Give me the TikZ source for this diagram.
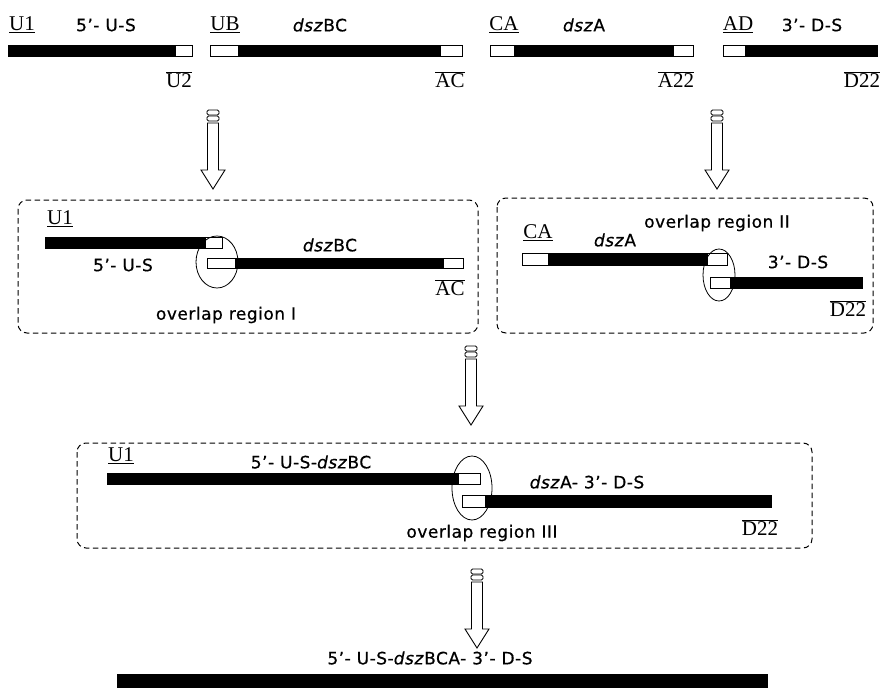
\documentclass[tikz,border=0pt]{standalone}
\usepackage{fontspec}
\setmainfont{Liberation Serif}
\newfontfamily\lblfont[FakeBold=0.6,LetterSpace=3]{DejaVu Sans}
\usetikzlibrary{shapes.geometric}
\tikzset{
  blk/.style={fill=black,draw=black,line width=0.6pt},
  wht/.style={fill=white,draw=black,line width=0.9pt},
  ser/.style={font=\fontsize{21}{24}\selectfont,inner sep=0pt},
  lbl/.style={font=\lblfont\fontsize{17}{20}\selectfont,inner sep=0pt},
  dbox/.style={draw,line width=1pt,dash pattern=on 5.5pt off 3.5pt,rounded corners=9pt},
  ovl/.style={draw,ellipse,line width=0.8pt,inner sep=0pt},
  harrow/.pic={
    \draw[line width=0.9pt,rounded corners=1.5pt,fill=white] (-6,0) rectangle (6,5);
    \draw[line width=0.9pt,rounded corners=1.5pt,fill=white] (-6,6) rectangle (6,11);
    \draw[line width=0.9pt,fill=white] (-5.5,13) -- (-5.5,60) -- (-12,60) -- (0,79) -- (12,60) -- (5.5,60) -- (5.5,13) -- cycle;
  }
}
\begin{document}
\begin{tikzpicture}[x=1pt,y=-1pt]
\useasboundingbox (0,0) rectangle (890,687);
% ---------- top row ----------
\draw[blk] (8,45) rectangle (175,56);
\draw[wht] (175,45) rectangle (192,56);
\draw[wht] (210,45) rectangle (238,56);
\draw[blk] (238,45) rectangle (440,56);
\draw[wht] (440,45) rectangle (462,56);
\draw[wht] (490,45) rectangle (514,56);
\draw[blk] (514,45) rectangle (673,56);
\draw[wht] (673,45) rectangle (693,56);
\draw[wht] (723,45) rectangle (745,56);
\draw[blk] (745,45) rectangle (877,56);

\node[ser] (tU1) at (22,25) {\underline{U1}};
\node[lbl] (tUS) at (106,25) {5’- U-S};
\node[ser] (tUB) at (225,25) {\underline{UB}};
\node[lbl] (tBC) at (320,25) {\textit{dsz}BC};
\node[ser] (tCA) at (504,25) {\underline{CA}};
\node[lbl] (tA) at (584,25) {\textit{dsz}A};
\node[ser] (tAD) at (738,25) {\underline{AD}};
\node[lbl] (tDS) at (812,25) {3’- D-S};
\node[ser] (tU2) at (179,80) {$\overline{\hbox{U2}}$};
\node[ser] (tAC) at (450,80) {$\overline{\hbox{AC}}$};
\node[ser] (tA22) at (676,80) {$\overline{\hbox{A22}}$};
\node[ser] (tD22) at (862,80) {$\overline{\hbox{D22}}$};

% ---------- arrows ----------
\pic at (213,110) {harrow};
\pic at (717,110) {harrow};
\pic at (471,346) {harrow};
\pic at (477,569) {harrow};

% ---------- box 1 ----------
\draw[dbox] (18,200) rectangle (478,333);
\draw[blk] (45,237) rectangle (205,248);
\draw[wht] (205,237) rectangle (222,248);
\draw[wht] (207,258) rectangle (235,268);
\draw[blk] (235,258) rectangle (443,268);
\draw[wht] (443,258) rectangle (463,268);
\node[ovl,minimum width=42pt,minimum height=52pt] (e1) at (217,262) {};
\node[ser] (bU1) at (60,219) {\underline{U1}};
\node[lbl] (bUS) at (123,265) {5’- U-S};
\node[lbl] (bBC) at (330,245) {\textit{dsz}BC};
\node[ser] (bAC) at (450,288) {$\overline{\hbox{AC}}$};
\node[lbl] (o1) at (226,315) {overlap region I};

% ---------- box 2 ----------
\draw[dbox] (497,198) rectangle (873,333);
\draw[wht] (522,253) rectangle (548,265);
\draw[blk] (548,253) rectangle (707,265);
\draw[wht] (707,253) rectangle (727,265);
\draw[wht] (710,277) rectangle (730,288);
\draw[blk] (730,277) rectangle (862,288);
\node[ovl,minimum width=32pt,minimum height=52pt] (e2) at (719,275) {};
\node[ser] (cCA) at (538,233) {\underline{CA}};
\node[lbl] (cA) at (615,240) {\textit{dsz}A};
\node[lbl] (o2) at (717,223) {overlap region II};
\node[lbl] (cDS) at (798,262) {3’- D-S};
\node[ser] (cD22) at (848,309) {$\overline{\hbox{D22}}$};

% ---------- box 3 ----------
\draw[dbox] (77,443) rectangle (812,548);
\draw[blk] (107,473) rectangle (458,484);
\draw[wht] (458,473) rectangle (480,484);
\draw[wht] (462,495) rectangle (485,507);
\draw[blk] (485,495) rectangle (771,507);
\node[ovl,minimum width=40pt,minimum height=64pt] (e3) at (472,488) {};
\node[ser] (dU1) at (121,456) {\underline{U1}};
\node[lbl] (dBC) at (311,462) {5’- U-S-\textit{dsz}BC};
\node[lbl] (dA) at (587,482) {\textit{dsz}A- 3’- D-S};
\node[lbl] (o3) at (482,533) {overlap region III};
\node[ser] (dD22) at (760,528) {$\overline{\hbox{D22}}$};

% ---------- final ----------
\node[lbl] (fin) at (430,658) {5’- U-S-\textit{dsz}BCA- 3’- D-S};
\draw[blk] (117,674) rectangle (767,687);
\end{tikzpicture}
\end{document}
